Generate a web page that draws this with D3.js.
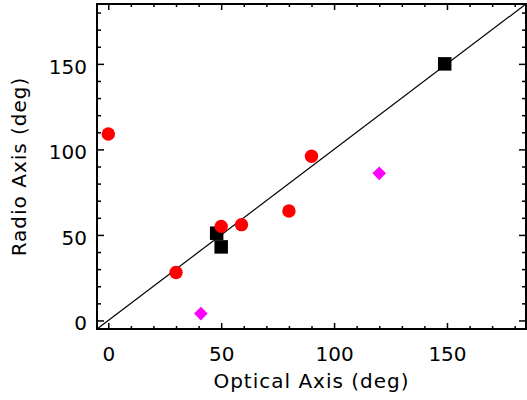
<!DOCTYPE html>
<html>
<head>
<meta charset="utf-8">
<script src="https://cdn.jsdelivr.net/npm/d3@7"></script>
<style>
  body { margin: 0; background: #fff; }
  text { font-family: "DejaVu Sans", sans-serif; fill: #000; }
</style>
</head>
<body>
<div id="chart"></div>
<script>
// red circles
var circleX = [0, 30, 50, 59, 80, 90],
    circleY = [109, 28, 55, 56, 64, 96];
// black squares
var squareX = [48, 50, 149],
    squareY = [51, 43, 150];
// magenta diamonds
var diamondX = [41, 120],
    diamondY = [4, 86];

var axisRange = [-5, 185],
    majorTicks = [0, 50, 100, 150],
    minorTicks = d3.range(0, 190, 10).filter(function(d) { return d % 50 != 0; });

var margin = { top: 4, right: 1, bottom: 71, left: 97 },
    width = 527 - margin.left - margin.right,
    height = 400 - margin.top - margin.bottom;

var svg = d3.select("#chart").append("svg")
    .attr("width", 527)
    .attr("height", 400)
  .append("g")
    .attr("transform", "translate(" + margin.left + "," + margin.top + ")");

var x = d3.scaleLinear().domain(axisRange).range([0, width]);
var y = d3.scaleLinear().domain(axisRange).range([height, 0]);

function zip(xs, ys) {
  return xs.map(function(d, i) { return { x: d, y: ys[i] }; });
}

// ticks (inside, mirrored on all four sides)
function ticks(axis, values, size, labels) {
  return axis.tickValues(values).tickSizeInner(-size).tickSizeOuter(0)
    .tickFormat(labels ? d3.format("d") : "");
}

var bottom = svg.append("g").attr("transform", "translate(0," + height + ")");
bottom.append("g").call(ticks(d3.axisBottom(x), minorTicks, 3, false));
bottom.append("g").call(ticks(d3.axisBottom(x), majorTicks, 6, true).tickPadding(18));

var top_ = svg.append("g");
top_.append("g").call(ticks(d3.axisTop(x), minorTicks, 3, false));
top_.append("g").call(ticks(d3.axisTop(x), majorTicks, 6, false));

var left = svg.append("g");
left.append("g").call(ticks(d3.axisLeft(y), minorTicks, 4, false));
left.append("g").call(ticks(d3.axisLeft(y), majorTicks, 7, true).tickPadding(10));

var right = svg.append("g").attr("transform", "translate(" + width + ",0)");
right.append("g").call(ticks(d3.axisRight(y), minorTicks, 4, false));
right.append("g").call(ticks(d3.axisRight(y), majorTicks, 7, false));

svg.selectAll(".domain").remove();
svg.selectAll(".tick line").attr("stroke", "#000").attr("stroke-width", 1.5);
svg.selectAll(".tick text").style("font-size", "20px");
left.selectAll(".tick text").attr("dy", "0.47em");

// frame
svg.append("rect")
    .attr("x", 0).attr("y", 0)
    .attr("width", width).attr("height", height)
    .style("fill", "none")
    .style("stroke", "#000")
    .style("stroke-width", 2);

// one-to-one line
svg.append("line")
    .attr("x1", x(axisRange[0]))
    .attr("y1", y(axisRange[0]))
    .attr("x2", x(axisRange[1]))
    .attr("y2", y(axisRange[1]))
    .style("stroke", "#000")
    .style("stroke-width", 1.2);

svg.selectAll(".square")
    .data(zip(squareX, squareY))
    .enter().append("path")
      .attr("class", "square")
      .attr("d", d3.symbol().type(d3.symbolSquare).size(13.5 * 13.5))
      .attr("transform", function(d) { return "translate(" + x(d.x) + "," + y(d.y) + ")"; })
      .style("fill", "#000");

svg.selectAll(".dot")
    .data(zip(circleX, circleY))
    .enter().append("circle")
      .attr("class", "dot")
      .attr("cx", function(d) { return x(d.x); })
      .attr("cy", function(d) { return y(d.y); })
      .attr("r", 6.7)
      .style("fill", "#ff0000");

// diamonds: a square turned 45 degrees, half-diagonal ~6.8px
svg.selectAll(".diamond")
    .data(zip(diamondX, diamondY))
    .enter().append("path")
      .attr("class", "diamond")
      .attr("d", d3.symbol().type(d3.symbolSquare).size(2 * 6.8 * 6.8))
      .attr("transform", function(d) { return "translate(" + x(d.x) + "," + y(d.y) + ") rotate(45)"; })
      .style("fill", "#ff00ff");

// axis titles
svg.append("text")
    .attr("x", width / 2)
    .attr("y", height + 59)
    .style("text-anchor", "middle")
    .style("font-size", "20px")
    .style("letter-spacing", "1px")
    .text("Optical Axis (deg)");

svg.append("text")
    .attr("transform", "translate(" + (26 - margin.left) + "," + (height / 2) + ") rotate(-90)")
    .style("text-anchor", "middle")
    .style("font-size", "20px")
    .style("letter-spacing", "1px")
    .text("Radio Axis (deg)");
</script>
</body>
</html>
